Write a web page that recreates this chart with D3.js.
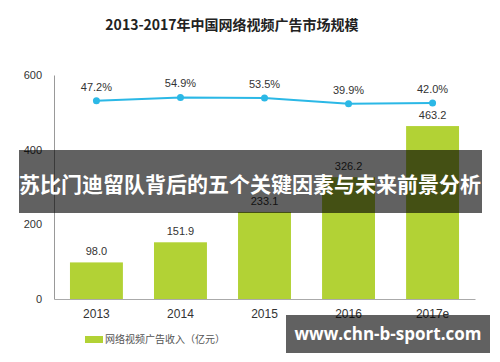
<!DOCTYPE html>
<html>
<head>
<meta charset="utf-8">
<script src="https://cdn.jsdelivr.net/npm/d3@7"></script>
<style>
  body { margin: 0; background: #fff; }
  svg { display: block; font-family: "Noto Sans CJK SC", "Noto Sans", sans-serif; }
</style>
</head>
<body>
<div id="chart"></div>
<script>
// data
const years = ["2013", "2014", "2015", "2016", "2017e"];
const revenue = [98.0, 151.9, 233.1, 326.2, 463.2];
const growth = [47.2, 54.9, 53.5, 39.9, 42.0];
const yTicks = [0, 200, 400, 600];

function init(){
    const W = 500, H = 362;
    const margin = { top: 75, right: 25, bottom: 63, left: 54 };
    const width = W - margin.left - margin.right;
    const height = H - margin.top - margin.bottom;

    const root = d3.select("#chart").append("svg")
        .attr("width", W)
        .attr("height", H);

    // title
    root.append("text")
        .attr("x", 232)
        .attr("y", 30)
        .attr("text-anchor", "middle")
        .style("font-size", "14px")
        .style("font-weight", "bold")
        .style("fill", "#222")
        .text("2013-2017年中国网络视频广告市场规模");

    const svg = root.append("g")
        .attr("transform", `translate(${margin.left}, ${margin.top})`);

    const x = d3.scaleBand()
        .domain(years)
        .range([0, width])
        .paddingInner(0.37)
        .paddingOuter(0.19);

    const y = d3.scaleLinear()
        .domain([0, 600])
        .range([height, 0]);

    // secondary scale for growth rate line
    const y2 = d3.scaleLinear()
        .domain([0, 100])
        .range([46, 3]);

    // y axis
    const yAxis = svg.append("g")
        .call(d3.axisLeft(y).tickValues(yTicks).tickSize(0).tickPadding(12));
    yAxis.select(".domain").attr("stroke", "#999");
    yAxis.selectAll("text")
        .style("font-size", "11px")
        .style("fill", "#333")
        .style("font-family", "'Liberation Sans', sans-serif");

    // x axis
    const xAxis = svg.append("g")
        .attr("transform", `translate(0, ${height})`)
        .call(d3.axisBottom(x).tickSize(0).tickPadding(10));
    xAxis.select(".domain").attr("stroke", "#aaa");
    xAxis.selectAll("text")
        .style("font-size", "12px")
        .style("fill", "#333")
        .style("font-family", "'Liberation Sans', sans-serif");

    // bars
    svg.selectAll(".bar")
        .data(revenue)
        .enter()
        .append("rect")
        .attr("class", "bar")
        .attr("x", (d, i) => x(years[i]))
        .attr("y", d => y(d))
        .attr("width", x.bandwidth())
        .attr("height", d => height - y(d))
        .attr("fill", "#b2d235");

    svg.selectAll(".barlabel")
        .data(revenue)
        .enter()
        .append("text")
        .attr("class", "barlabel")
        .attr("x", (d, i) => x(years[i]) + x.bandwidth() / 2)
        .attr("y", d => y(d) - 7)
        .attr("text-anchor", "middle")
        .style("font-size", "11px")
        .style("fill", "#333")
        .style("font-family", "'Liberation Sans', sans-serif")
        .text(d => d.toFixed(1));

    // growth line
    const line = d3.line()
        .x((d, i) => x(years[i]) + x.bandwidth() / 2)
        .y(d => y2(d));

    svg.append("path")
        .datum(growth)
        .attr("d", line)
        .attr("fill", "none")
        .attr("stroke", "#2bb8e6")
        .attr("stroke-width", 2);

    svg.selectAll(".dot")
        .data(growth)
        .enter()
        .append("circle")
        .attr("cx", (d, i) => x(years[i]) + x.bandwidth() / 2)
        .attr("cy", d => y2(d))
        .attr("r", 3.5)
        .attr("fill", "#2bb8e6");

    svg.selectAll(".growthlabel")
        .data(growth)
        .enter()
        .append("text")
        .attr("x", (d, i) => x(years[i]) + x.bandwidth() / 2)
        .attr("y", d => y2(d) - 10)
        .attr("text-anchor", "middle")
        .style("font-size", "11px")
        .style("fill", "#333")
        .style("font-family", "'Liberation Sans', sans-serif")
        .text(d => d.toFixed(1) + "%");

    // legend
    const legend = root.append("g")
        .attr("transform", "translate(85, 336)");
    legend.append("rect")
        .attr("width", 18)
        .attr("height", 7)
        .attr("fill", "#b2d235");
    legend.append("text")
        .attr("x", 20)
        .attr("y", 7)
        .style("font-size", "10px")
        .style("fill", "#555")
        .text("网络视频广告收入（亿元）");

    // overlay banners
    root.append("rect")
        .attr("x", 19)
        .attr("y", 150)
        .attr("width", 463)
        .attr("height", 63)
        .attr("fill", "rgba(0,0,0,0.62)");
    root.append("text")
        .attr("x", 250)
        .attr("y", 192)
        .attr("text-anchor", "middle")
        .style("font-size", "21px")
        .style("font-weight", "bold")
        .style("fill", "#fff")
        .text("苏比门迪留队背后的五个关键因素与未来前景分析");

    root.append("rect")
        .attr("x", 286)
        .attr("y", 315)
        .attr("width", 204)
        .attr("height", 38)
        .attr("fill", "rgba(0,0,0,0.62)");
    root.append("text")
        .attr("x", 388)
        .attr("y", 340)
        .attr("text-anchor", "middle")
        .style("font-size", "17px")
        .style("font-weight", "bold")
        .style("fill", "#fff")
        .style("font-family", "'Open Sans', sans-serif")
        .text("www.chn-b-sport.com");
}
window.onload = init;
</script>
</body>
</html>
